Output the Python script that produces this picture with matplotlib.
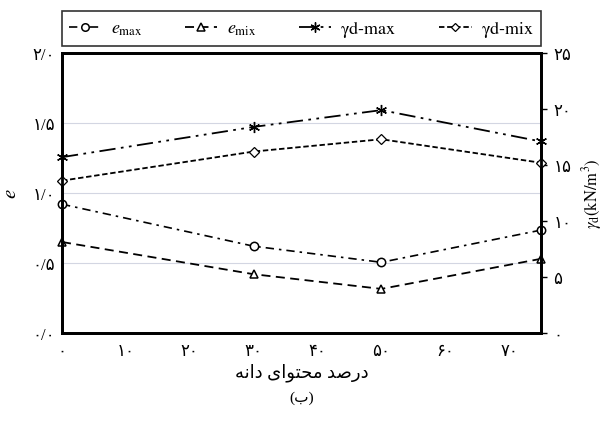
import matplotlib
matplotlib.use("Agg")
import matplotlib.pyplot as plt

plt.rcParams['mathtext.fontset'] = 'stix'
plt.rcParams['font.family'] = ['Liberation Serif', 'DejaVu Sans']

# data
grain = [0, 30, 50, 75]
e_max = [0.92, 0.62, 0.505, 0.735]
e_mix = [0.65, 0.42, 0.315, 0.53]
gd_max = [15.7, 18.4, 19.9, 17.1]
gd_mix = [13.6, 16.2, 17.3, 15.2]

fa = lambda s: s.translate(str.maketrans('0123456789', '۰۱۲۳۴۵۶۷۸۹'))
x_ticks = [0, 10, 20, 30, 40, 50, 60, 70]
x_labels = [fa(str(v)) for v in x_ticks]
yl_ticks = [0.0, 0.5, 1.0, 1.5, 2.0]
yl_labels = [fa('%.1f' % v).replace('.', '/') for v in yl_ticks]
yr_ticks = [0, 5, 10, 15, 20, 25]
yr_labels = [fa(str(v)) for v in yr_ticks]

# visual-order presentation forms for "درصد محتوای دانه"
xlabel = ('\uFEEA\uFEE7\uFE8D\uFEA9' + ' ' +
          '\uFBFC\uFE8D\uFEEE\uFE98\uFEA4\uFEE3' + ' ' +
          '\uFEAA\uFEBB\uFEAD\uFEA9')
caption = '(\uFE8F)'

fig = plt.figure(figsize=(6.04, 4.35), dpi=100)
ax = fig.add_axes([62/604, 1-334/435, 479/604, 280/435])
ax2 = ax.twinx()

ax.set_xlim(0, 75)
ax.set_ylim(0, 2.0)
ax2.set_ylim(0, 25)

for v in [0.5, 1.0, 1.5]:
    ax.axhline(v, color='#d3d6e2', lw=0.8, zorder=0)

l1, = ax.plot(grain, e_max, color='black', lw=1.2, dashes=(5, 3, 1.5, 3),
              marker='o', ms=6, mfc='white', mec='black', mew=1.1, clip_on=False)
l2, = ax.plot(grain, e_mix, color='black', lw=1.3, dashes=(5, 3),
              marker='^', ms=6, mfc='white', mec='black', mew=1.1, clip_on=False)
l3, = ax2.plot(grain, gd_max, color='black', lw=1.3, dashes=(9, 3, 1.5, 3, 1.5, 3),
               marker=(6, 2, 0), ms=8, mec='black', mew=1.0, clip_on=False)
l4, = ax2.plot(grain, gd_mix, color='black', lw=1.3, dashes=(3, 1.5),
               marker='D', ms=5, mfc='white', mec='black', mew=0.9, clip_on=False)

ax.set_xticks(x_ticks)
ax.set_xticklabels(x_labels, fontsize=12)
ax.set_yticks(yl_ticks)
ax.set_yticklabels(yl_labels, fontsize=12)
ax2.set_yticks(yr_ticks)
ax2.set_yticklabels(yr_labels, fontsize=12)

ax.tick_params(axis='x', length=0, pad=7)
ax.tick_params(axis='y', length=0, pad=5)
ax2.tick_params(axis='y', length=4, width=1, direction='out', pad=5)

for a in (ax, ax2):
    for s in a.spines.values():
        s.set_linewidth(2)
        s.set_color('black')

ax.set_xlabel(xlabel, fontsize=13, labelpad=3)
ax.set_ylabel(r'$\mathit{e}$', fontsize=15, labelpad=8)
ax2.set_ylabel(r'$\gamma_{\mathrm{d}}\mathrm{(kN/m^3)}$', fontsize=12, labelpad=6)

fig.text(0.5, 1-398/435, caption, ha='center', va='center', fontsize=11)

labels = [r'$\mathit{e}_{\mathrm{max}}$', r'$\mathit{e}_{\mathrm{mix}}$',
          r'$\mathrm{\gamma d\text{-}max}$', r'$\mathrm{\gamma d\text{-}mix}$']
leg = fig.legend([l1, l2, l3, l4], labels, loc='center',
                 bbox_to_anchor=(62/604, 1-46/435, 479/604, 33/435), mode='expand',
                 ncol=4, fontsize=13, frameon=True, fancybox=False,
                 handlelength=1.8, borderaxespad=0, handletextpad=0.5,
                 markerscale=0.9)
leg.get_frame().set_edgecolor('black')
leg.get_frame().set_linewidth(1.2)

fig.savefig('out.png', dpi=100)
